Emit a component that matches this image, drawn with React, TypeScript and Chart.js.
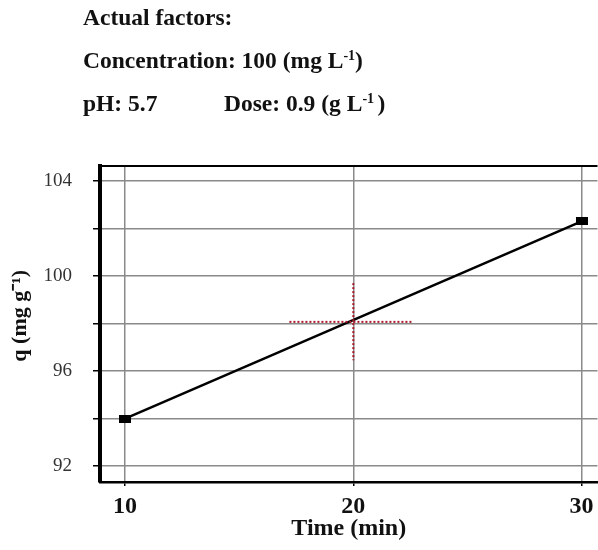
import React, { useEffect, useRef } from "react";
import { Chart, registerables } from "chart.js";

Chart.register(...registerables);

const timeValues = [10, 30];
const qValues = [94.0, 102.3];
const xTicks = [10, 20, 30];
const yTicks = [92, 94, 96, 98, 100, 102, 104];
const yLabelTicks = [92, 96, 100, 104];
const crossH = [
  { x: 17.2, y: 98.07 },
  { x: 22.6, y: 98.07 },
];
const crossV = [
  { x: 20, y: 99.7 },
  { x: 20, y: 96.45 },
];

const SERIF = "'Liberation Serif', 'Times New Roman', serif";

export default function App() {
  const ref = useRef<HTMLCanvasElement | null>(null);

  useEffect(() => {
    const canvas = ref.current;
    if (!canvas) return;

    const marker = document.createElement("canvas");
    marker.width = 12;
    marker.height = 8;
    const mctx = marker.getContext("2d");
    if (mctx) {
      mctx.fillStyle = "#000";
      mctx.fillRect(0, 0, 12, 8);
    }

    const topBorder = {
      id: "topBorder",
      afterDraw(chart: any) {
        const { ctx, chartArea } = chart;
        ctx.save();
        ctx.strokeStyle = "#000";
        ctx.lineWidth = 2;
        ctx.beginPath();
        ctx.moveTo(chartArea.left, chartArea.top);
        ctx.lineTo(chartArea.right, chartArea.top);
        ctx.stroke();
        ctx.restore();
      },
    };

    const chart = new Chart(canvas, {
      type: "line",
      data: {
        datasets: [
          {
            label: "cross-h",
            data: crossH,
            borderColor: "#a8182a",
            borderWidth: 2,
            borderDash: [2, 2],
            pointRadius: 0,
          },
          {
            label: "cross-v",
            data: crossV,
            borderColor: "#a8182a",
            borderWidth: 2,
            borderDash: [2, 2],
            pointRadius: 0,
          },
          {
            label: "q",
            data: timeValues.map((t, i) => ({ x: t, y: qValues[i] })),
            borderColor: "#000",
            borderWidth: 2.5,
            pointStyle: marker as any,
            pointRadius: 6,
          },
        ],
      },
      options: {
        animation: false,
        responsive: false,
        layout: { padding: { top: 166, left: 0, right: 0, bottom: 0 } },
        plugins: {
          legend: { display: false },
          tooltip: { enabled: false },
        },
        scales: {
          x: {
            type: "linear",
            min: 8.9,
            max: 30.7,
            afterBuildTicks: (scale: any) => {
              scale.ticks = xTicks.map((v) => ({ value: v }));
            },
            afterFit: (scale: any) => {
              scale.height = 68;
            },
            grid: {
              color: "#8a8a8a",
              lineWidth: 1.5,
              tickColor: "#000",
              tickLength: 4,
            },
            border: { display: true, color: "#000", width: 2.5 },
            ticks: {
              font: { family: SERIF, size: 24, weight: "bold" },
              color: "#111",
              padding: 6,
              maxRotation: 0,
              callback: (v: any) => String(v),
            },
            title: {
              display: true,
              text: "Time (min)",
              font: { family: SERIF, size: 24, weight: "bold" },
              color: "#111",
              padding: { top: 0, bottom: 7 },
            },
          },
          y: {
            type: "linear",
            min: 91.33,
            max: 104.63,
            afterBuildTicks: (scale: any) => {
              scale.ticks = yTicks.map((v) => ({ value: v }));
            },
            afterFit: (scale: any) => {
              scale.width = 100;
            },
            grid: {
              color: "#8a8a8a",
              lineWidth: 1.5,
              tickColor: "#000",
              tickLength: 7,
            },
            border: { display: true, color: "#000", width: 4 },
            ticks: {
              font: { family: SERIF, size: 19 },
              color: "#333",
              padding: 21,
              callback: (v: any) => (yLabelTicks.includes(Number(v)) ? String(v) : ""),
            },
            title: {
              display: true,
              text: "   q (mg g⁻¹)",
              font: { family: SERIF, size: 22, weight: "bold" },
              color: "#111",
              padding: { top: 7, bottom: 0 },
            },
          },
        },
      },
      plugins: [topBorder],
    });

    return () => chart.destroy();
  }, []);

  const line: React.CSSProperties = {
    position: "absolute",
    left: 83,
    fontFamily: SERIF,
    fontWeight: "bold",
    fontSize: 23.5,
    lineHeight: "24px",
    color: "#111",
    whiteSpace: "nowrap",
  };
  const sup: React.CSSProperties = { fontSize: 14, verticalAlign: "8px", lineHeight: 0 };

  return (
    <div
      style={{
        position: "fixed",
        left: 0,
        top: 0,
        width: 598,
        height: 550,
        background: "#fff",
        overflow: "hidden",
      }}
    >
      <canvas ref={ref} width={606} height={550} style={{ position: "absolute", left: 0, top: 0 }} />
      <div style={{ ...line, top: 5 }}>Actual factors:</div>
      <div style={{ ...line, top: 48 }}>
        Concentration: 100 (mg L<span style={sup}>-1</span>)
      </div>
      <div style={{ ...line, top: 91 }}>pH: 5.7</div>
      <div style={{ ...line, top: 91, left: 224 }}>
        Dose: 0.9 (g L<span style={sup}>-1 </span>)
      </div>
    </div>
  );
}
